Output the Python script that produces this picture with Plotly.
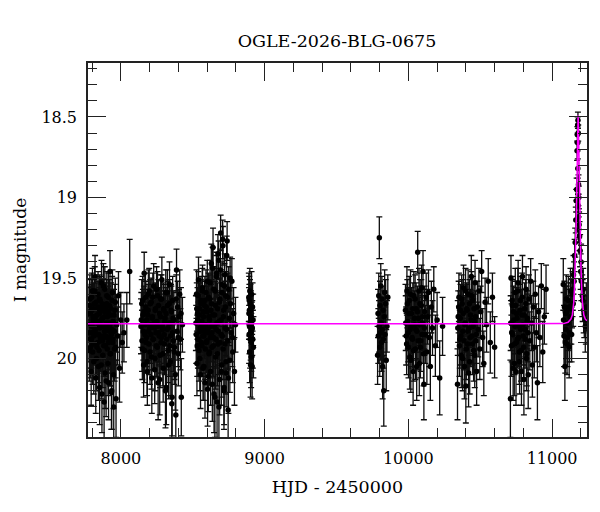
import plotly.graph_objects as go

# ---- photometry, season by season (HJD-2450000, I mag, error) ----
t1 = [7778, 7780, 7784, 7786, 7789, 7793, 7795, 7798, 7802, 7805,
      7807, 7811, 7814, 7816, 7820, 7823, 7825, 7829, 7832, 7834,
      7838, 7841, 7843, 7847, 7850, 7852, 7856, 7859, 7861, 7865,
      7868, 7870, 7874, 7877, 7879, 7883, 7886, 7888, 7892, 7895,
      7897, 7901, 7904, 7906, 7910, 7913, 7915, 7919, 7922, 7924,
      7928, 7931, 7934, 7937, 7941, 7944, 7948, 7952, 7956, 7961,
      7966, 7971, 7977, 7983, 7990, 7999, 8009, 8021, 8041, 8061]
m1 = [19.72, 19.95, 19.63, 19.88, 19.79, 20.08, 19.70, 19.84, 19.58, 19.91,
      19.76, 20.02, 19.66, 19.83, 19.49, 19.74, 20.12, 19.81, 19.69, 19.93,
      19.77, 19.60, 20.05, 19.85, 19.72, 20.18, 19.64, 19.89, 19.79, 19.53,
      20.22, 19.75, 19.98, 19.68, 19.86, 20.27, 19.71, 19.57, 19.92, 19.80,
      20.14, 19.66, 19.87, 19.74, 20.03, 19.62, 19.90, 19.78, 19.83, 19.46,
      19.97, 19.69, 20.21, 19.82, 19.59, 19.88, 20.10, 19.73, 19.94, 19.65,
      20.25, 19.79, 19.86, 19.61, 20.06, 19.76, 19.90, 19.84, 19.76, 19.46]
e1 = [0.16, 0.19, 0.15, 0.18, 0.17, 0.21, 0.16, 0.18, 0.14, 0.19,
      0.17, 0.20, 0.15, 0.18, 0.13, 0.16, 0.22, 0.17, 0.16, 0.19,
      0.17, 0.14, 0.21, 0.18, 0.16, 0.23, 0.15, 0.19, 0.17, 0.14,
      0.24, 0.17, 0.20, 0.15, 0.18, 0.25, 0.16, 0.14, 0.19, 0.17,
      0.22, 0.15, 0.18, 0.16, 0.20, 0.15, 0.19, 0.17, 0.18, 0.13,
      0.20, 0.16, 0.23, 0.18, 0.14, 0.19, 0.21, 0.16, 0.20, 0.15,
      0.24, 0.17, 0.18, 0.15, 0.21, 0.17, 0.19, 0.18, 0.17, 0.20]
t1b = [7779, 7782, 7785, 7788, 7791, 7794, 7797, 7800, 7803, 7806,
       7809, 7812, 7815, 7818, 7821, 7824, 7827, 7830, 7833, 7836,
       7839, 7842, 7845, 7848, 7851, 7854, 7857, 7860, 7863, 7866,
       7869, 7872, 7875, 7878, 7881, 7884, 7887, 7890, 7893, 7896,
       7899, 7902, 7905, 7908, 7911, 7914, 7917, 7920, 7923, 7926,
       7929, 7933, 7936, 7939, 7942, 7946, 7950, 7954, 7958, 7963]
m1b = [19.84, 19.67, 19.79, 19.93, 19.71, 19.88, 19.62, 19.80, 19.96, 19.74,
       19.69, 19.86, 19.77, 19.58, 19.91, 19.82, 19.65, 20.00, 19.73, 19.85,
       19.90, 19.68, 19.78, 19.95, 19.63, 19.81, 19.87, 19.70, 20.04, 19.76,
       19.66, 19.89, 19.80, 19.55, 19.92, 19.74, 19.83, 20.09, 19.69, 19.86,
       19.78, 19.61, 19.94, 19.82, 19.71, 20.15, 19.88, 19.67, 19.79, 19.97,
       19.73, 19.85, 20.20, 19.64, 19.90, 19.77, 20.30, 19.83, 19.70, 19.93]
e1b = [0.18, 0.16, 0.17, 0.19, 0.16, 0.18, 0.15, 0.17, 0.20, 0.16,
       0.16, 0.18, 0.17, 0.15, 0.19, 0.18, 0.15, 0.20, 0.16, 0.18,
       0.19, 0.16, 0.17, 0.20, 0.15, 0.18, 0.18, 0.16, 0.21, 0.17,
       0.15, 0.19, 0.17, 0.14, 0.19, 0.17, 0.18, 0.22, 0.16, 0.18,
       0.17, 0.15, 0.20, 0.18, 0.16, 0.23, 0.19, 0.16, 0.17, 0.20,
       0.16, 0.18, 0.24, 0.15, 0.19, 0.17, 0.26, 0.18, 0.16, 0.19]

t2 = [8140, 8145, 8149, 8153, 8158, 8162, 8167, 8171, 8175, 8180,
      8184, 8189, 8193, 8197, 8202, 8206, 8211, 8215, 8219, 8224,
      8228, 8233, 8237, 8241, 8246, 8250, 8255, 8259, 8263, 8268,
      8272, 8277, 8281, 8285, 8290, 8294, 8299, 8303, 8307, 8312,
      8316, 8321, 8325, 8329, 8334, 8338, 8343, 8347, 8351, 8356,
      8360, 8365, 8369, 8373, 8378, 8382, 8387, 8391, 8395, 8400,
      8404, 8409, 8414, 8420, 8428]
m2 = [19.80, 19.66, 19.94, 19.73, 20.04, 19.47, 19.85, 19.62, 19.90, 19.76,
      20.08, 19.70, 19.83, 19.58, 19.96, 19.79, 19.65, 20.12, 19.74, 19.88,
      19.55, 19.81, 20.00, 19.69, 19.92, 19.77, 19.61, 20.15, 19.84, 19.72,
      19.98, 19.63, 19.87, 19.51, 19.80, 20.06, 19.70, 19.91, 19.75, 19.59,
      20.18, 19.82, 19.67, 19.95, 19.78, 19.54, 20.02, 19.86, 19.71, 20.24,
      19.64, 19.89, 19.76, 19.93, 20.10, 20.35, 19.45, 19.83, 19.68, 19.97,
      19.74, 19.60, 19.88, 20.24, 19.79]
e2 = [0.17, 0.15, 0.19, 0.16, 0.20, 0.13, 0.18, 0.15, 0.19, 0.17,
      0.21, 0.16, 0.18, 0.14, 0.20, 0.17, 0.15, 0.22, 0.16, 0.19,
      0.14, 0.17, 0.20, 0.16, 0.19, 0.17, 0.15, 0.23, 0.18, 0.16,
      0.20, 0.15, 0.18, 0.14, 0.17, 0.21, 0.16, 0.19, 0.17, 0.14,
      0.23, 0.18, 0.15, 0.20, 0.17, 0.14, 0.21, 0.18, 0.16, 0.24,
      0.15, 0.19, 0.17, 0.20, 0.22, 0.26, 0.13, 0.18, 0.16, 0.20,
      0.17, 0.15, 0.19, 0.24, 0.17]
t2b = [8142, 8147, 8151, 8156, 8160, 8164, 8169, 8173, 8178, 8182,
       8187, 8191, 8195, 8200, 8204, 8209, 8213, 8217, 8222, 8226,
       8231, 8235, 8239, 8244, 8248, 8253, 8257, 8261, 8266, 8270,
       8275, 8279, 8283, 8288, 8292, 8297, 8301, 8305, 8310, 8314,
       8319, 8323, 8327, 8332, 8336, 8341, 8345, 8349, 8354, 8358,
       8363, 8371, 8385, 8398, 8418]
m2b = [19.76, 19.89, 19.64, 19.83, 19.71, 19.95, 19.79, 19.68, 19.87, 20.02,
       19.73, 19.60, 19.91, 19.81, 19.66, 19.85, 19.99, 19.75, 19.62, 19.88,
       19.78, 20.07, 19.70, 19.84, 19.57, 19.93, 19.80, 19.67, 19.86, 20.13,
       19.74, 19.90, 19.63, 19.82, 19.97, 19.69, 19.85, 19.77, 20.20, 19.72,
       19.88, 19.59, 19.81, 20.04, 19.66, 19.92, 19.78, 19.70, 20.28, 19.84,
       19.75, 19.96, 19.63, 19.87, 19.72]
e2b = [0.17, 0.19, 0.15, 0.18, 0.16, 0.20, 0.17, 0.16, 0.18, 0.21,
       0.16, 0.15, 0.19, 0.17, 0.15, 0.18, 0.20, 0.17, 0.15, 0.19,
       0.17, 0.21, 0.16, 0.18, 0.14, 0.19, 0.17, 0.16, 0.18, 0.22,
       0.16, 0.19, 0.15, 0.17, 0.20, 0.16, 0.18, 0.17, 0.23, 0.16,
       0.19, 0.14, 0.17, 0.21, 0.15, 0.19, 0.17, 0.16, 0.25, 0.18,
       0.17, 0.20, 0.15, 0.18, 0.16]

t3 = [8522, 8526, 8529, 8533, 8536, 8540, 8543, 8547, 8550, 8554,
      8557, 8561, 8564, 8568, 8571, 8575, 8578, 8582, 8585, 8589,
      8592, 8596, 8599, 8603, 8606, 8610, 8613, 8617, 8620, 8624,
      8627, 8631, 8634, 8638, 8641, 8645, 8648, 8652, 8655, 8659,
      8662, 8666, 8669, 8673, 8676, 8680, 8683, 8687, 8690, 8694,
      8697, 8701, 8704, 8708, 8711, 8715, 8718, 8722, 8725, 8729,
      8732, 8736, 8739, 8743, 8746, 8750, 8754, 8758, 8762, 8767,
      8772, 8778, 8784, 8790, 8797]
m3 = [19.78, 19.60, 20.03, 19.72, 19.88, 19.51, 19.95, 19.69, 19.83, 20.10,
      19.64, 19.79, 19.92, 19.56, 20.06, 19.74, 19.86, 19.67, 20.15, 19.81,
      19.59, 19.90, 19.71, 20.19, 19.84, 19.62, 19.97, 19.76, 19.53, 20.08,
      19.80, 19.66, 19.93, 19.44, 19.31, 19.87, 20.22, 19.73, 19.58, 19.99,
      19.82, 19.47, 20.27, 19.69, 19.91, 19.39, 19.77, 20.13, 19.63, 19.22,
      19.85, 20.04, 19.54, 19.26, 19.94, 19.70, 20.18, 19.48, 19.81, 19.61,
      20.09, 19.36, 19.27, 19.89, 20.32, 19.57, 19.75, 20.01, 19.66, 19.84,
      19.52, 19.96, 19.72, 20.08, 19.79]
e3 = [0.17, 0.15, 0.20, 0.16, 0.18, 0.14, 0.19, 0.16, 0.18, 0.21,
      0.15, 0.17, 0.19, 0.14, 0.20, 0.16, 0.18, 0.15, 0.22, 0.17,
      0.14, 0.19, 0.16, 0.23, 0.18, 0.15, 0.20, 0.17, 0.14, 0.21,
      0.17, 0.15, 0.19, 0.13, 0.12, 0.18, 0.24, 0.16, 0.14, 0.20,
      0.17, 0.13, 0.25, 0.16, 0.19, 0.12, 0.17, 0.22, 0.15, 0.11,
      0.18, 0.20, 0.14, 0.12, 0.19, 0.16, 0.23, 0.13, 0.17, 0.15,
      0.21, 0.12, 0.12, 0.18, 0.26, 0.14, 0.17, 0.20, 0.15, 0.18,
      0.14, 0.19, 0.16, 0.21, 0.17]
t3b = [8524, 8528, 8531, 8535, 8538, 8542, 8545, 8549, 8552, 8556,
       8559, 8563, 8566, 8570, 8573, 8577, 8580, 8584, 8587, 8591,
       8594, 8598, 8601, 8605, 8608, 8612, 8615, 8619, 8622, 8626,
       8629, 8633, 8636, 8640, 8643, 8647, 8650, 8654, 8657, 8661,
       8664, 8668, 8671, 8675, 8678, 8682, 8685, 8689, 8692, 8696,
       8699, 8703, 8706, 8710, 8713, 8717, 8720, 8724, 8727, 8731,
       8734, 8741, 8748, 8760, 8775]
m3b = [19.85, 19.69, 19.92, 19.76, 19.61, 19.88, 19.73, 20.00, 19.81, 19.66,
       19.90, 19.77, 19.58, 19.86, 19.71, 20.05, 19.83, 19.64, 19.94, 19.79,
       19.68, 19.89, 19.52, 19.82, 20.11, 19.74, 19.96, 19.63, 19.87, 19.70,
       19.41, 19.84, 20.16, 19.73, 19.92, 19.57, 19.80, 20.24, 19.67, 19.88,
       19.49, 19.78, 19.97, 19.35, 19.83, 20.30, 19.65, 19.90, 19.45, 19.76,
       20.08, 19.59, 19.86, 19.30, 19.74, 20.20, 19.55, 19.91, 19.68, 20.02,
       19.82, 19.62, 20.12, 19.50, 19.87]
e3b = [0.18, 0.16, 0.19, 0.17, 0.15, 0.18, 0.16, 0.20, 0.17, 0.15,
       0.19, 0.17, 0.14, 0.18, 0.16, 0.21, 0.17, 0.15, 0.19, 0.17,
       0.16, 0.18, 0.13, 0.17, 0.22, 0.16, 0.20, 0.15, 0.18, 0.16,
       0.12, 0.18, 0.23, 0.16, 0.19, 0.14, 0.17, 0.25, 0.15, 0.18,
       0.13, 0.17, 0.20, 0.12, 0.18, 0.26, 0.15, 0.19, 0.13, 0.17,
       0.21, 0.14, 0.18, 0.12, 0.16, 0.24, 0.14, 0.19, 0.16, 0.20,
       0.17, 0.15, 0.22, 0.13, 0.18]

t4 = [8890, 8892, 8894, 8896, 8898, 8900, 8902, 8905, 8907, 8909,
      8911, 8913, 8916, 8918, 8920, 8922, 8891, 8893, 8895, 8897,
      8899, 8901, 8903, 8906, 8910, 8914]
m4 = [19.62, 19.85, 19.70, 19.96, 19.66, 19.78, 20.04, 19.74, 19.90, 19.60,
      19.82, 20.05, 19.68, 19.88, 19.76, 19.93, 19.72, 19.64, 19.80, 19.58,
      19.88, 19.70, 19.84, 19.99, 19.76, 19.81]
e4 = [0.15, 0.18, 0.16, 0.19, 0.15, 0.17, 0.20, 0.16, 0.18, 0.14,
      0.17, 0.20, 0.15, 0.18, 0.16, 0.19, 0.16, 0.15, 0.17, 0.14,
      0.18, 0.16, 0.17, 0.19, 0.16, 0.17]

t5 = [9786, 9789, 9791, 9794, 9796, 9798, 9801, 9803, 9806, 9808,
      9811, 9813, 9816, 9818, 9821, 9824, 9826, 9829, 9832, 9835,
      9838, 9842, 9846, 9851, 9857]
m5 = [19.98, 19.72, 19.86, 19.61, 19.80, 19.25, 19.93, 19.67, 19.84, 19.55,
      19.78, 19.90, 19.63, 19.82, 20.05, 19.70, 19.88, 20.20, 19.74, 19.59,
      19.85, 19.66, 20.01, 19.80, 19.62]
e5 = [0.18, 0.15, 0.17, 0.14, 0.16, 0.13, 0.18, 0.15, 0.17, 0.14,
      0.16, 0.18, 0.14, 0.17, 0.20, 0.15, 0.18, 0.22, 0.16, 0.14,
      0.17, 0.15, 0.19, 0.16, 0.14]

t6 = [9980, 9985, 9990, 9996, 10001, 10006, 10012, 10017, 10022, 10028,
      10033, 10038, 10044, 10049, 10054, 10060, 10065, 10070, 10076, 10081,
      10086, 10092, 10097, 10102, 10108, 10113, 10118, 10124, 10129, 10134,
      10140, 10146, 10153, 10160, 10168, 10177, 10188, 10200, 10218, 10238]
m6 = [19.70, 19.86, 19.58, 19.77, 19.93, 19.64, 19.82, 20.01, 19.72, 19.88,
      20.08, 19.61, 19.79, 19.94, 19.69, 19.83, 19.34, 19.75, 20.03, 19.66,
      19.89, 19.56, 19.78, 19.46, 20.16, 19.71, 19.85, 19.62, 19.96, 19.74,
      19.59, 19.87, 20.05, 19.68, 19.81, 19.57, 19.92, 19.76, 20.12, 19.80]
e6 = [0.16, 0.18, 0.15, 0.17, 0.19, 0.15, 0.18, 0.20, 0.16, 0.18,
      0.21, 0.15, 0.17, 0.19, 0.16, 0.18, 0.13, 0.17, 0.20, 0.15,
      0.19, 0.14, 0.17, 0.13, 0.22, 0.16, 0.18, 0.15, 0.20, 0.17,
      0.14, 0.18, 0.21, 0.16, 0.17, 0.14, 0.19, 0.17, 0.23, 0.18]
t6b = [9982, 9988, 9993, 9999, 10004, 10010, 10015, 10020, 10026, 10031,
       10036, 10042, 10047, 10052, 10058, 10063, 10068, 10074, 10079, 10084,
       10090, 10095, 10100, 10106, 10111]
m6b = [19.78, 19.91, 19.66, 19.84, 19.72, 19.99, 19.60, 19.80, 19.87, 19.69,
       19.95, 19.75, 19.63, 19.82, 20.05, 19.71, 19.89, 19.58, 19.79, 19.93,
       19.67, 19.85, 19.74, 19.97, 19.81]
e6b = [0.17, 0.19, 0.15, 0.18, 0.16, 0.20, 0.15, 0.17, 0.18, 0.16,
       0.19, 0.17, 0.15, 0.18, 0.21, 0.16, 0.18, 0.14, 0.17, 0.19,
       0.16, 0.18, 0.17, 0.20, 0.17]

t7 = [10342, 10347, 10352, 10358, 10363, 10368, 10374, 10379, 10384, 10390,
      10395, 10400, 10406, 10411, 10416, 10422, 10427, 10432, 10438, 10443,
      10448, 10454, 10459, 10464, 10470, 10475, 10480, 10486, 10491, 10497,
      10503, 10510, 10517, 10525, 10534, 10544, 10556, 10570, 10585, 10600]
m7 = [20.16, 19.74, 19.62, 19.88, 19.70, 19.98, 19.66, 19.83, 19.56, 20.05,
      19.78, 20.17, 19.69, 19.91, 19.60, 19.81, 20.02, 19.73, 19.49, 19.86,
      19.64, 19.95, 19.77, 19.53, 19.89, 20.08, 19.68, 19.82, 19.58, 19.94,
      19.71, 19.46, 19.87, 20.03, 19.65, 19.79, 19.52, 19.90, 19.62, 19.93]
e7 = [0.22, 0.16, 0.15, 0.18, 0.16, 0.20, 0.15, 0.17, 0.14, 0.20,
      0.17, 0.23, 0.16, 0.19, 0.15, 0.17, 0.20, 0.16, 0.13, 0.18,
      0.15, 0.19, 0.17, 0.14, 0.18, 0.21, 0.16, 0.17, 0.14, 0.19,
      0.16, 0.13, 0.18, 0.20, 0.15, 0.17, 0.14, 0.19, 0.15, 0.19]
t7b = [10344, 10350, 10355, 10361, 10366, 10371, 10377, 10382, 10387, 10393,
       10398, 10403, 10409, 10414, 10419, 10425, 10430, 10435, 10441, 10446,
       10451, 10457, 10462, 10467, 10473]
m7b = [19.81, 19.68, 19.92, 19.75, 19.86, 19.63, 20.00, 19.72, 19.89, 19.79,
       19.58, 19.94, 19.70, 19.83, 20.09, 19.66, 19.87, 19.76, 19.61, 19.91,
       19.80, 19.69, 19.98, 19.74, 19.85]
e7b = [0.17, 0.16, 0.19, 0.17, 0.18, 0.15, 0.20, 0.16, 0.18, 0.17,
       0.14, 0.19, 0.16, 0.18, 0.21, 0.15, 0.18, 0.17, 0.15, 0.19,
       0.17, 0.16, 0.20, 0.16, 0.18]

t8 = [10710, 10714, 10719, 10724, 10729, 10734, 10739, 10744, 10749, 10754,
      10759, 10764, 10769, 10774, 10779, 10784, 10789, 10794, 10799, 10804,
      10809, 10814, 10819, 10824, 10829, 10834, 10839, 10845, 10851, 10857,
      10863, 10869, 10876, 10883, 10890, 10898, 10906, 10915, 10925, 10935,
      10946, 10958]
m8 = [20.25, 19.50, 19.84, 19.67, 20.06, 19.76, 19.91, 19.59, 20.08, 19.72,
      19.88, 19.53, 19.80, 20.02, 19.64, 19.95, 19.73, 19.49, 19.86, 20.13,
      19.69, 19.82, 19.57, 19.97, 19.75, 20.10, 19.63, 19.89, 19.52, 19.78,
      20.04, 19.68, 19.93, 19.60, 19.84, 20.15, 19.71, 19.87, 19.55, 19.96,
      19.74, 19.57]
e8 = [0.24, 0.14, 0.18, 0.16, 0.20, 0.17, 0.19, 0.15, 0.21, 0.16,
      0.18, 0.14, 0.17, 0.20, 0.15, 0.19, 0.16, 0.13, 0.18, 0.22,
      0.16, 0.17, 0.14, 0.20, 0.17, 0.21, 0.15, 0.18, 0.14, 0.17,
      0.20, 0.16, 0.19, 0.15, 0.18, 0.23, 0.16, 0.18, 0.14, 0.19,
      0.17, 0.15]
t8b = [10712, 10717, 10722, 10727, 10732, 10737, 10742, 10747, 10752, 10757,
       10762, 10767, 10772, 10777, 10782, 10787, 10792, 10797, 10802, 10807,
       10812, 10817, 10822, 10827, 10832]
m8b = [19.78, 19.92, 19.64, 19.85, 19.71, 20.03, 19.80, 19.67, 19.90, 19.75,
       19.58, 19.87, 19.96, 19.70, 19.82, 20.08, 19.62, 19.79, 19.93, 19.73,
       19.88, 19.66, 20.00, 19.77, 19.84]
e8b = [0.17, 0.19, 0.15, 0.18, 0.16, 0.20, 0.17, 0.15, 0.19, 0.17,
       0.14, 0.18, 0.20, 0.16, 0.18, 0.21, 0.15, 0.17, 0.19, 0.16,
       0.18, 0.15, 0.20, 0.17, 0.18]

t9 = [11078, 11083, 11089, 11094, 11099, 11104, 11110, 11116, 11122, 11128,
      11134, 11139, 11144, 11149, 11153, 11157, 11161, 11165, 11168, 11171,
      11174, 11176, 11178, 11180, 11182, 11184, 11186, 11188, 11191, 11195,
      11199, 11204, 11210, 11217, 11224, 11231, 11238]
m9 = [19.54, 19.86, 20.05, 19.72, 19.63, 19.91, 19.78, 19.68, 19.84, 19.58,
      19.75, 19.66, 19.57, 19.48, 19.52, 19.36, 19.28, 19.14, 19.02, 18.95,
      18.71, 18.61, 18.55, 18.52, 18.60, 18.92, 19.00, 19.17, 19.24, 19.33,
      19.46, 19.52, 19.61, 19.57, 19.72, 19.80, 19.68]
e9 = [0.16, 0.19, 0.21, 0.17, 0.15, 0.19, 0.17, 0.15, 0.18, 0.14,
      0.16, 0.15, 0.13, 0.12, 0.12, 0.10, 0.09, 0.08, 0.07, 0.07,
      0.06, 0.05, 0.05, 0.05, 0.05, 0.06, 0.07, 0.08, 0.09, 0.10,
      0.11, 0.12, 0.13, 0.13, 0.15, 0.16, 0.15]
t9b = [11080, 11086, 11092, 11097, 11102, 11107, 11113, 11119, 11125, 11131,
       11136, 11142, 11147, 11178, 11179, 11181, 11183, 11185, 11202, 11213,
       11220, 11235]
m9b = [19.76, 19.68, 19.90, 19.82, 19.71, 19.87, 19.64, 19.93, 19.74, 19.69,
       19.85, 19.60, 19.66, 18.66, 18.82, 19.05, 19.12, 19.20, 19.40, 19.64,
       19.70, 19.76]
e9b = [0.17, 0.16, 0.19, 0.18, 0.16, 0.18, 0.15, 0.19, 0.17, 0.16,
       0.17, 0.14, 0.14, 0.05, 0.06, 0.07, 0.07, 0.08, 0.11, 0.13,
       0.14, 0.15]

# ---- model light curve ----
model_t = [7771, 11080, 11111, 11131, 11141, 11151, 11156, 11161, 11165, 11168,
           11171, 11173, 11175, 11177, 11179, 11181, 11183, 11185, 11187, 11189,
           11191, 11194, 11197, 11201, 11206, 11211, 11221, 11231, 11243]
model_m = [19.784, 19.783, 19.775, 19.755, 19.73, 19.65, 19.56, 19.43, 19.28, 19.15,
           19.01, 18.90, 18.77, 18.64, 18.54, 18.49, 18.54, 18.64, 18.77, 18.90,
           19.01, 19.15, 19.28, 19.43, 19.56, 19.65, 19.73, 19.755, 19.765]

title_text = "OGLE-2026-BLG-0675"
x_label = "HJD - 2450000"
y_label = "I magnitude"
x_range = [7771, 11243]
y_range = [20.487, 18.165]

all_t = t1 + t1b + t2 + t2b + t3 + t3b + t4 + t5 + t6 + t6b + t7 + t7b + t8 + t8b + t9 + t9b
all_m = m1 + m1b + m2 + m2b + m3 + m3b + m4 + m5 + m6 + m6b + m7 + m7b + m8 + m8b + m9 + m9b
all_e = e1 + e1b + e2 + e2b + e3 + e3b + e4 + e5 + e6 + e6b + e7 + e7b + e8 + e8b + e9 + e9b

FONT = "DejaVu Serif"
INK = "#222222"

fig = go.Figure()
fig.add_trace(go.Scatter(
    x=all_t, y=all_m, mode="markers",
    marker=dict(color="black", size=5.5),
    error_y=dict(type="data", array=all_e, visible=True,
                 color="#0d0d0d", thickness=1.3, width=3),
    showlegend=False, hoverinfo="skip"))
fig.add_trace(go.Scatter(
    x=model_t, y=model_m, mode="lines",
    line=dict(color="#ff00ff", width=1.5),
    showlegend=False, hoverinfo="skip"))

axis_common = dict(
    showgrid=False, zeroline=False, showline=True, linecolor=INK, linewidth=1.5,
    ticks="inside", tickcolor=INK, tickwidth=1, mirror="allticks", automargin=False,
    tickfont=dict(family=FONT, size=16, color="black"),
)

fig.update_xaxes(
    range=x_range, tick0=8000, dtick=1000, tickformat="d", ticklen=18, ticklabelstandoff=6,
    minor=dict(dtick=200, tick0=8000, ticklen=9, ticks="inside", tickcolor=INK, tickwidth=1),
    title=dict(text=x_label, font=dict(family=FONT, size=17.5, color="black"), standoff=14),
    **axis_common)
fig.update_yaxes(
    range=y_range, tick0=18.5, dtick=0.5, ticklen=18, ticklabelstandoff=6,
    minor=dict(dtick=0.1, tick0=18.5, ticklen=9, ticks="inside", tickcolor=INK, tickwidth=1),
    title=dict(text=y_label, font=dict(family=FONT, size=17, color="black"), standoff=10),
    **axis_common)

# the page adds an 8px body margin, so margins are shifted to compensate
fig.update_layout(
    width=600, height=512,
    margin=dict(l=80, r=21, t=55, b=83),
    paper_bgcolor="white", plot_bgcolor="white",
    title=dict(text=title_text, x=329 / 600,
               xanchor="center", y=1 - 33 / 512, yanchor="middle", yref="container",
               font=dict(family=FONT, size=17.5, color="black")),
)

fig.write_html("out.html")
